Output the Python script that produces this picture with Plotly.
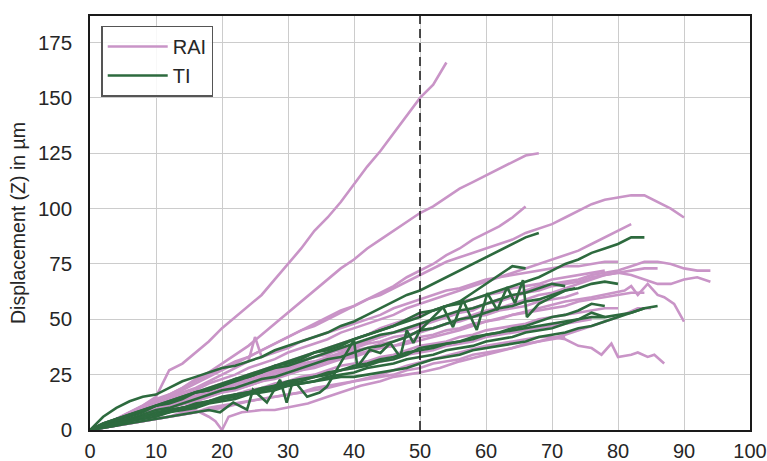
import plotly.graph_objects as go

# ---------------- data ----------------
x_grid = [0, 2, 4, 6, 8, 10, 12, 14, 16, 18, 20, 22, 24, 26, 28, 30, 32, 34, 36, 38,
          40, 42, 44, 46, 48, 50, 52, 54, 56, 58, 60, 62, 64, 66, 68, 70, 72, 74, 76, 78,
          80, 82, 84, 86, 88, 90, 92, 94, 96]

# RAI series (y values on x_grid, from x=0)
rai_a = [0, 2, 5, 8, 11, 15, 27, 30, 35, 40, 46, 51, 56, 61, 68, 75, 82, 90, 96, 103,
         111, 119, 126, 134, 142, 150, 156, 166]
rai_b = [0, 2, 5, 7, 10, 13, 16, 19, 23, 26, 30, 34, 38, 43, 48, 53, 58, 63, 68, 73,
         77, 82, 86, 90, 94, 98, 101, 105, 109, 112, 115, 118, 121, 124, 125]
rai_c = [0, 2, 4, 6, 9, 12, 15, 18, 21, 24, 27, 30, 33, 36, 39, 42, 45, 48, 51, 54,
         56, 59, 62, 65, 69, 72, 75, 79, 82, 86, 89, 92, 96, 101]
rai_d = [0, 3, 5, 8, 11, 14, 16, 19, 22, 25, 28, 31, 33, 36, 39, 42, 45, 47, 50, 53,
         56, 59, 61, 64, 67, 70, 73, 76, 78, 80, 82, 84, 86, 89, 91, 93, 96, 99, 102, 104,
         105, 106, 106, 103, 100, 96]
rai_e = [0, 2, 4, 7, 9, 12, 14, 16, 18, 21, 23, 25, 28, 30, 32, 35, 37, 39, 41, 44,
         46, 48, 50, 52, 55, 57, 59, 61, 63, 65, 67, 69, 71, 73, 75, 77, 79, 81, 84, 87,
         90, 93]
rai_f = [0, 2, 4, 5, 8, 10, 12, 13, 16, 18, 20, 21, 24, 26, 27, 29, 31, 33, 34, 37,
         38, 40, 42, 44, 45, 47, 49, 51, 53, 54, 57, 59, 60, 63, 65, 66, 67, 68, 70, 71,
         72, 74, 76, 76, 75, 73, 72, 72]
rai_g = [0, 1, 3, 5, 7, 9, 11, 13, 15, 17, 19, 21, 22, 24, 26, 28, 30, 31, 33, 35,
         37, 39, 40, 42, 43, 44, 46, 48, 50, 52, 54, 55, 57, 59, 61, 62, 64, 66, 68, 70,
         71, 70, 68, 66, 66, 68, 69, 67]
rai_l = [0, 2, 4, 6, 8, 10, 11, 13, 15, 17, 19, 21, 23, 25, 27, 29, 31, 33, 35, 36,
         38, 40, 42, 44, 46, 48, 50, 51, 53, 55, 57, 58, 60, 62, 63, 65, 66, 67, 69, 70,
         71, 72, 73, 73]
rai_m = [0, 1, 3, 4, 6, 7, 9, 10, 12, 13, 15, 16, 18, 19, 21, 22, 24, 25, 27, 29,
         30, 31, 33, 34, 36, 38, 39, 40, 42, 43, 45, 46, 47, 48, 50, 51, 52, 53, 54, 55,
         55]
rai_n = [0, 1, 2, 4, 5, 7, 8, 10, 11, 13, 14, 15, 17, 18, 20, 21, 23, 24, 26, 27,
         28, 30, 31, 32, 34, 35, 36, 38, 39, 40, 42, 43, 44, 45, 46, 47, 48, 49, 50]
rai_o = [0, 2, 3, 5, 7, 8, 10, 12, 13, 15, 17, 18, 20, 22, 23, 25, 27, 28, 30, 32,
         33, 35, 37, 38, 40, 42, 43, 45, 46, 48, 49, 50, 52, 53, 54, 55, 56, 58, 59, 60,
         61, 62, 62]
rai_p = [0, 2, 4, 6, 8, 10, 12, 15, 17, 19, 21, 23, 25, 27, 29, 31, 33, 35, 37, 39,
         41, 43, 46, 48, 50, 52, 54, 56, 58, 59, 61, 62, 64, 65, 66, 68, 69, 70, 71, 72]
rai_q = [0, 1, 2, 3, 4, 5, 6, 7, 8, 10, 11, 12, 13, 14, 15, 16, 17, 19, 20, 21,
         22, 23, 24, 25, 27, 28, 30, 31, 32, 34, 35, 36, 37, 39, 40, 41, 42]
rai_r = [0, 2, 3, 5, 7, 9, 11, 12, 14, 16, 18, 20, 21, 23, 25, 27, 29, 30, 32, 34,
         36, 37, 39, 40, 42, 45, 46, 48, 49, 51, 52, 54, 55, 56, 58, 59, 60, 62]

# RAI series with their own x positions
rai_h_x = [0, 4, 8, 12, 16, 20, 24, 28, 32, 36, 40, 44, 48, 52, 56, 60, 64, 68, 72, 76,
           79, 81, 82, 83, 84.5, 86, 87, 88.5, 90]
rai_h_y = [0, 3, 6, 10, 13, 17, 20, 24, 27, 31, 34, 37, 39, 42, 45, 49, 52, 55, 58, 60,
           62, 63, 65, 61, 66, 61, 60, 57, 49]
rai_i_x = [0, 4, 8, 12, 16, 20, 24, 28, 32, 36, 40, 44, 48, 52, 56, 60, 64, 68, 70, 72,
           74, 76, 77.5, 79, 80, 82, 83, 84.5, 85.5, 87]
rai_i_y = [0, 2, 4, 6, 8, 10, 13, 15, 17, 19, 22, 25, 29, 32, 35, 38, 40, 42, 42, 41,
           38, 37, 34, 39, 33, 34, 35, 33, 34, 30]
rai_j_x = [0, 2, 4, 6, 8, 10, 12, 14, 16, 18, 19, 20, 21, 23, 26, 28, 31, 33, 36, 38,
           41, 44, 46, 48, 50, 53, 56, 60, 64, 68, 72, 76, 80, 83, 85]
rai_j_y = [0, 1, 2, 3, 4, 5, 6, 8, 9, 6, 4, 0, 6, 8, 9, 9, 11, 12, 15, 17,
           20, 22, 24, 25, 26, 28, 31, 34, 37, 40, 43, 47, 51, 55, 55]
rai_k_x = [0, 2, 4, 6, 8, 10, 12, 14, 16, 18, 20, 22, 24, 25, 26, 28, 30, 32, 34, 36,
           38, 40, 42, 44, 46, 48, 50, 52, 54, 56, 58, 60, 62, 64, 66, 68, 70, 72, 74, 76,
           78, 80]
rai_k_y = [0, 2, 4, 6, 9, 11, 14, 17, 19, 22, 25, 28, 31, 42, 33, 35, 37, 40, 42, 44,
           46, 48, 50, 52, 55, 57, 59, 61, 63, 64, 66, 68, 69, 70, 71, 72, 73, 74, 74, 75,
           76, 76]

# TI series (y values on x_grid)
ti_a = [0, 6, 10, 13, 15, 16, 19, 22, 24, 26, 28, 29, 31, 33, 36, 38, 40, 42, 44, 47,
        49, 52, 55, 58, 61, 63, 66, 69, 72, 75, 78, 81, 84, 87, 89]
ti_b = [0, 2, 5, 6, 8, 11, 12, 14, 17, 18, 20, 23, 24, 26, 29, 30, 32, 35, 36, 38,
        41, 43, 45, 47, 50, 53, 54, 56, 57, 59, 61, 63, 65, 67, 69, 72, 75, 77, 80, 82,
        84, 87, 87]
ti_c = [0, 3, 5, 7, 9, 11, 13, 15, 17, 19, 21, 23, 25, 27, 29, 31, 33, 35, 37, 39,
        41, 43, 45, 47, 49, 51, 54, 56, 58, 62, 66, 70, 74, 73]
ti_e = [0, 2, 4, 5, 7, 9, 10, 12, 14, 16, 18, 19, 21, 23, 24, 26, 28, 30, 32, 33,
        35, 37, 38, 40, 42, 45, 46, 48, 50, 51, 53, 55, 56, 58, 59, 61, 63, 64, 66, 67,
        66]
ti_f = [0, 2, 3, 4, 6, 7, 9, 10, 12, 13, 14, 16, 17, 19, 20, 22, 23, 24, 26, 27,
        29, 30, 32, 33, 35, 36, 37, 39, 40, 42, 43, 44, 46, 47, 49, 51, 52, 54, 57, 56]
ti_g = [0, 1, 2, 4, 5, 6, 8, 9, 10, 12, 13, 14, 16, 17, 18, 20, 21, 22, 24, 25,
        26, 28, 29, 30, 32, 33, 34, 36, 37, 38, 40, 41, 42, 44, 45, 46, 48, 50, 53, 51]
ti_h = [0, 2, 4, 5, 6, 8, 9, 10, 11, 13, 15, 16, 17, 18, 19, 20, 21, 22, 23, 24,
        24, 25, 26, 27, 28, 30, 32, 33, 34, 36, 37, 38, 39, 40, 42, 43, 44, 46, 47, 49,
        51, 53, 55]
ti_i = [0, 2, 3, 4, 6, 7, 8, 10, 11, 13, 14, 15, 17, 18, 20, 21, 22, 24, 25, 27,
        28, 29, 31, 32, 34, 37, 38, 39, 40, 41, 43, 44, 45, 46, 47, 48, 49, 50, 51, 51,
        52, 53, 55, 56]
ti_j = [0, 3, 5, 7, 9, 11, 13, 15, 17, 18, 20, 22, 24, 26, 28, 29, 31, 33, 35, 37,
        39, 41, 43, 44, 46, 48, 50, 52, 54, 55, 57, 59, 61, 62, 64, 66, 65]

# TI zig-zag series with its own x positions
ti_d_x = [0, 2, 4, 6, 8, 10, 12, 14, 16, 18, 19.7, 21.7, 23.8, 24.7, 26.8, 28.8, 29.8, 30.8, 32.9, 34.8,
          35.9, 39, 40, 40.5, 42.4, 44, 45.5, 47, 48, 49, 50, 52, 53.5, 55, 56.5, 58.6, 60.2, 61.7, 63.2, 64.4,
          65.6, 66.2, 68, 70, 72, 73.5]
ti_d_y = [0, 1, 2, 3, 4, 5, 6, 7, 8, 9, 8, 12.4, 9.2, 18.2, 12.4, 22.7, 12.4, 22.7, 15, 16.9,
          19.6, 36, 40.7, 28.5, 36.2, 34.8, 39.3, 33, 45, 39.3, 45, 51, 55.5, 46.5, 58.7, 45.2, 61.8, 54.2, 64.5, 57.3,
          67.7, 51, 57, 60, 63, 64]

x_ticks = [0, 10, 20, 30, 40, 50, 60, 70, 80, 90, 100]
y_ticks = [0, 25, 50, 75, 100, 125, 150, 175]
marker_x = 50

# ---------------- figure ----------------
PINK = "#c994c7"
GREEN = "#2d6a3e"
LW = 2.6

rai_series = [
    (x_grid[:len(rai_a)], rai_a), (x_grid[:len(rai_b)], rai_b), (x_grid[:len(rai_c)], rai_c),
    (x_grid[:len(rai_d)], rai_d), (x_grid[:len(rai_e)], rai_e), (x_grid[:len(rai_f)], rai_f),
    (x_grid[:len(rai_g)], rai_g), (rai_h_x, rai_h_y), (rai_i_x, rai_i_y), (rai_j_x, rai_j_y),
    (rai_k_x, rai_k_y), (x_grid[:len(rai_l)], rai_l), (x_grid[:len(rai_m)], rai_m),
    (x_grid[:len(rai_n)], rai_n), (x_grid[:len(rai_o)], rai_o), (x_grid[:len(rai_p)], rai_p),
    (x_grid[:len(rai_q)], rai_q), (x_grid[:len(rai_r)], rai_r),
]
ti_series = [
    (x_grid[:len(ti_a)], ti_a), (x_grid[:len(ti_b)], ti_b), (x_grid[:len(ti_c)], ti_c),
    (ti_d_x, ti_d_y), (x_grid[:len(ti_e)], ti_e), (x_grid[:len(ti_f)], ti_f),
    (x_grid[:len(ti_g)], ti_g), (x_grid[:len(ti_h)], ti_h), (x_grid[:len(ti_i)], ti_i),
    (x_grid[:len(ti_j)], ti_j),
]

fig = go.Figure()
for i, (xs, ys) in enumerate(rai_series):
    fig.add_trace(go.Scatter(x=xs, y=ys, mode="lines", name="RAI", legendgroup="RAI",
                             showlegend=(i == 0), line=dict(color=PINK, width=LW),
                             hoverinfo="skip"))
for i, (xs, ys) in enumerate(ti_series):
    fig.add_trace(go.Scatter(x=xs, y=ys, mode="lines", name="TI", legendgroup="TI",
                             showlegend=(i == 0), line=dict(color=GREEN, width=LW),
                             hoverinfo="skip"))

fig.add_shape(type="line", xref="x", yref="paper", x0=marker_x, x1=marker_x, y0=0, y1=1,
              line=dict(color="#222222", width=1.6, dash="9px,5px"), layer="above")

FONT = "Liberation Sans, Arial, sans-serif"
fig.update_layout(
    width=767, height=461,
    margin=dict(l=90, r=17, t=16, b=31, autoexpand=False),
    paper_bgcolor="white", plot_bgcolor="white",
    font=dict(family=FONT, size=20, color="#262626"),
    showlegend=True,
    legend=dict(x=0.017, y=0.977, xanchor="left", yanchor="top",
                bgcolor="rgba(255,255,255,0.85)", bordercolor="#555555", borderwidth=1.5,
                font=dict(size=20, color="#262626"), tracegroupgap=0, itemwidth=60),
)
fig.update_xaxes(range=[0, 100], tickvals=x_ticks, ticktext=[str(v) for v in x_ticks],
                 showgrid=True, gridcolor="#cccccc", gridwidth=1.2, zeroline=False,
                 showline=True, linecolor="#1a1a1a", linewidth=1.6, mirror=True,
                 ticks="", tickfont=dict(size=20), ticklabelstandoff=2,
                 ticklabeloverflow="allow")
fig.update_yaxes(range=[0, 187], tickvals=y_ticks, ticktext=[str(v) for v in y_ticks],
                 showgrid=True, gridcolor="#cccccc", gridwidth=1.2, zeroline=False,
                 showline=True, linecolor="#1a1a1a", linewidth=1.6, mirror=True,
                 ticks="", tickfont=dict(size=20.5), ticklabelstandoff=12,
                 ticklabeloverflow="allow",
                 title=dict(text="Displacement (Z) in µm", font=dict(size=19.5), standoff=7))

fig.write_html("out.html", config={"displayModeBar": False},
               post_script="document.body.style.margin='0';")
